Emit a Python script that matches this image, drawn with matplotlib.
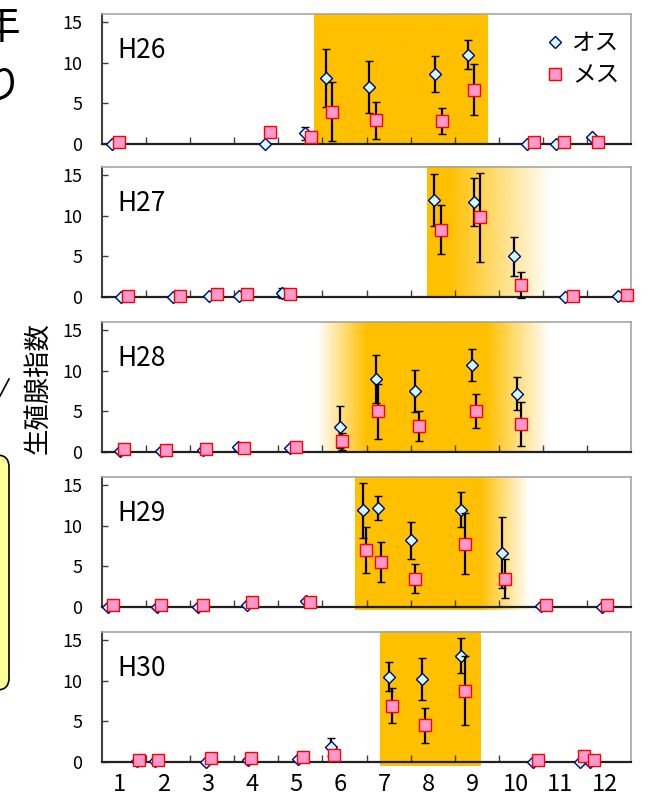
import numpy as np
import matplotlib.pyplot as plt
from matplotlib.colors import to_rgb
from matplotlib.patches import FancyBboxPatch
from matplotlib.lines import Line2D

plt.rcParams['font.family'] = ['Noto Sans CJK JP', 'DejaVu Sans']

# x = month position (month m spans m-1 .. m), y = 生殖腺指数
years = ["H26", "H27", "H28", "H29", "H30"]
month_labels = [str(m) for m in range(1, 13)]

male_x = {
    "H26": [0.22, 3.70, 4.61, 5.07, 6.06, 7.56, 8.30, 9.63, 10.31, 11.11],
    "H27": [0.42, 1.60, 2.43, 3.11, 4.08, 7.54, 8.44, 9.35, 10.50, 11.71],
    "H28": [0.41, 1.33, 2.30, 3.09, 4.27, 5.40, 6.21, 7.09, 8.40, 9.42],
    "H29": [0.14, 1.24, 2.18, 3.28, 4.63, 5.93, 6.25, 7.00, 8.14, 9.07, 9.95, 11.34],
    "H30": [0.79, 1.20, 2.37, 3.32, 4.45, 5.19, 6.51, 7.25, 8.14, 9.78, 10.84, 11.07],
}
male_y = {
    "H26": [0.0, 0.0, 1.3, 8.1, 7.0, 8.6, 11.0, 0.0, 0.0, 0.9],
    "H27": [0.0, 0.0, 0.1, 0.1, 0.5, 11.9, 11.7, 5.0, 0.0, 0.1],
    "H28": [0.1, 0.1, 0.2, 0.6, 0.5, 3.1, 9.0, 7.5, 10.7, 7.2],
    "H29": [0.0, 0.0, 0.0, 0.25, 0.8, 11.9, 12.2, 8.2, 12.0, 6.7, 0.1, 0.0],
    "H30": [0.1, 0.1, 0.0, 0.3, 0.4, 1.9, 10.5, 10.2, 13.1, 0.0, 0.0, 0.0],
}
male_err = {
    "H26": [0, 0, 0.8, 3.6, 3.2, 2.2, 1.8, 0, 0, 0],
    "H27": [0, 0, 0, 0, 0.6, 3.2, 3.0, 2.4, 0, 0],
    "H28": [0, 0, 0, 0.2, 0, 2.6, 3.0, 2.6, 2.0, 2.0],
    "H29": [0, 0, 0, 0, 0, 3.4, 1.45, 2.3, 2.2, 4.4, 0, 0],
    "H30": [0, 0, 0, 0, 0, 1.1, 1.8, 2.55, 2.2, 0, 0, 0],
}
female_x = {
    "H26": [0.39, 3.82, 4.73, 5.22, 6.21, 7.71, 8.44, 9.81, 10.48, 11.25],
    "H27": [0.58, 1.77, 2.60, 3.28, 4.27, 7.69, 8.58, 9.50, 10.68, 11.90],
    "H28": [0.51, 1.45, 2.37, 3.22, 4.39, 5.45, 6.27, 7.18, 8.48, 9.50],
    "H29": [0.26, 1.33, 2.30, 3.41, 4.72, 5.98, 6.32, 7.09, 8.24, 9.14, 10.07, 11.45],
    "H30": [0.85, 1.28, 2.47, 3.38, 4.57, 5.26, 6.57, 7.33, 8.24, 9.88, 10.93, 11.17],
}
female_y = {
    "H26": [0.3, 1.5, 0.9, 4.0, 2.9, 2.8, 6.7, 0.2, 0.2, 0.3],
    "H27": [0.1, 0.1, 0.4, 0.4, 0.4, 8.3, 9.8, 1.5, 0.1, 0.3],
    "H28": [0.4, 0.25, 0.35, 0.5, 0.6, 1.3, 5.0, 3.2, 5.0, 3.5],
    "H29": [0.3, 0.2, 0.3, 0.65, 0.65, 7.0, 5.5, 3.5, 7.8, 3.5, 0.2, 0.3],
    "H30": [0.3, 0.3, 0.5, 0.45, 0.6, 0.9, 6.95, 4.5, 8.8, 0.25, 0.7, 0.25],
}
female_err = {
    "H26": [0, 0, 0, 3.6, 2.3, 1.6, 3.1, 0, 0, 0],
    "H27": [0, 0, 0, 0, 0, 3.0, 5.5, 1.6, 0, 0],
    "H28": [0, 0, 0, 0, 0, 1.0, 3.4, 1.8, 2.1, 2.7],
    "H29": [0, 0, 0, 0, 0, 2.8, 2.45, 1.8, 3.75, 2.4, 0, 0],
    "H30": [0, 0, 0, 0, 0, 0, 2.1, 2.1, 4.3, 0, 0, 0],
}
# spawning season band: fade-in start, solid start, solid end, fade-out end
season = {
    "H26": (4.81, 4.81, 8.75, 8.75),
    "H27": (7.38, 7.38, 7.9, 10.2),
    "H28": (4.88, 6.0, 8.73, 10.16),
    "H29": (5.74, 5.74, 8.58, 9.7),
    "H30": (6.31, 6.31, 8.59, 8.59),
}
season_bottom = {"H26": 0, "H27": 0, "H28": 0, "H29": -0.35, "H30": -0.55}

W, H = 651, 811
fig = plt.figure(figsize=(W / 100, H / 100), dpi=100)

panel_bottom_px = [144, 297, 452, 607, 762]
ORANGE = '#FFC000'
male_style = dict(marker='D', ms=6.5, mfc='#CCFFFF', mec='#000080', mew=1)
female_style = dict(marker='s', ms=8, mfc='#FF99CC', mec='#FF0000', mew=1)


def shade(ax, band, ybot):
    a, b, c, d = band
    xs = np.linspace(a, d, 500)
    alpha = np.ones_like(xs)
    if b > a:
        alpha = np.where(xs < b, (xs - a) / (b - a), alpha)
    if d > c:
        alpha = np.where(xs > c, 1 - (xs - c) / (d - c), alpha)
    img = np.zeros((1, len(xs), 4))
    img[..., :3] = to_rgb(ORANGE)
    img[0, :, 3] = np.clip(alpha, 0, 1)
    ax.imshow(img, extent=(a, d, ybot, 16), aspect='auto', zorder=0,
              clip_on=False, interpolation='bilinear')


for i, yr in enumerate(years):
    bpx = panel_bottom_px[i]
    ax = fig.add_axes([102 / W, (H - bpx) / H, 529 / W, 130 / H])
    shade(ax, season[yr], season_bottom[yr])

    me = np.array(male_err[yr], dtype=float)
    fe = np.array(female_err[yr], dtype=float)
    ax.errorbar(male_x[yr], male_y[yr], yerr=np.where(me > 0, me, np.nan),
                ls='none', ecolor='black', elinewidth=1.6, capsize=2.6,
                capthick=1.6, zorder=3, clip_on=False, **male_style)
    ax.errorbar(female_x[yr], female_y[yr], yerr=np.where(fe > 0, fe, np.nan),
                ls='none', ecolor='black', elinewidth=1.6, capsize=2.6,
                capthick=1.6, zorder=4, clip_on=False, **female_style)

    ax.set_xlim(0, 12)
    ax.set_ylim(0, 16)
    ax.set_yticks([0, 5, 10, 15])
    ax.tick_params(axis='y', direction='in', length=4, width=1,
                   color='#404040', labelsize=13, pad=14)
    ax.set_xticks(range(1, 12))
    ax.tick_params(axis='x', which='major', direction='in', length=5,
                   width=1, color='#404040', labelbottom=False)
    if i == len(years) - 1:
        ax.set_xticks(np.arange(1, 13) - 0.6, minor=True)
        ax.set_xticklabels(month_labels, minor=True)
        ax.tick_params(axis='x', which='minor', length=0, labelsize=17, pad=8)

    for s in ['top', 'right']:
        ax.spines[s].set_color('#A6A6A6')
        ax.spines[s].set_linewidth(1.2)
    ax.spines['left'].set_color('#404040')
    ax.spines['left'].set_linewidth(1.5)
    ax.spines['bottom'].set_color('#202020')
    ax.spines['bottom'].set_linewidth(1.6)
    for s in ax.spines.values():
        s.set_zorder(2)

    ax.text(0.03, 0.72, yr, transform=ax.transAxes, fontsize=19,
            ha='left', va='center')

    if i == 0:
        hs = [Line2D([], [], ls='none', **male_style),
              Line2D([], [], ls='none', **female_style)]
        ax.legend(hs, ['オス', 'メス'], loc='upper right',
                  bbox_to_anchor=(1.0, 0.95), frameon=False, fontsize=17,
                  handlelength=0.8, handletextpad=0.3, labelspacing=0.4,
                  borderaxespad=0.1)

fig.text(38 / W, 1 - 388 / H, '生殖腺指数', rotation=90, fontsize=19,
         ha='center', va='center')

# cropped parts of the surrounding slide on the left edge
over = fig.add_axes([0, 0, 1, 1], zorder=-1)
over.set_xlim(0, W)
over.set_ylim(H, 0)
over.axis('off')
over.text(21, 27, '年', fontsize=30, ha='right', va='center')
over.text(22, 88, 'り', fontsize=30, ha='right', va='center')
over.plot([0, 9], [396, 379], color='black', lw=1.2)
over.add_patch(FancyBboxPatch((-40, 455), 49, 235,
                              boxstyle='round,pad=0,rounding_size=12',
                              fc='#FFFF99', ec='black', lw=1.2))

fig.savefig('out.png', dpi=100)
